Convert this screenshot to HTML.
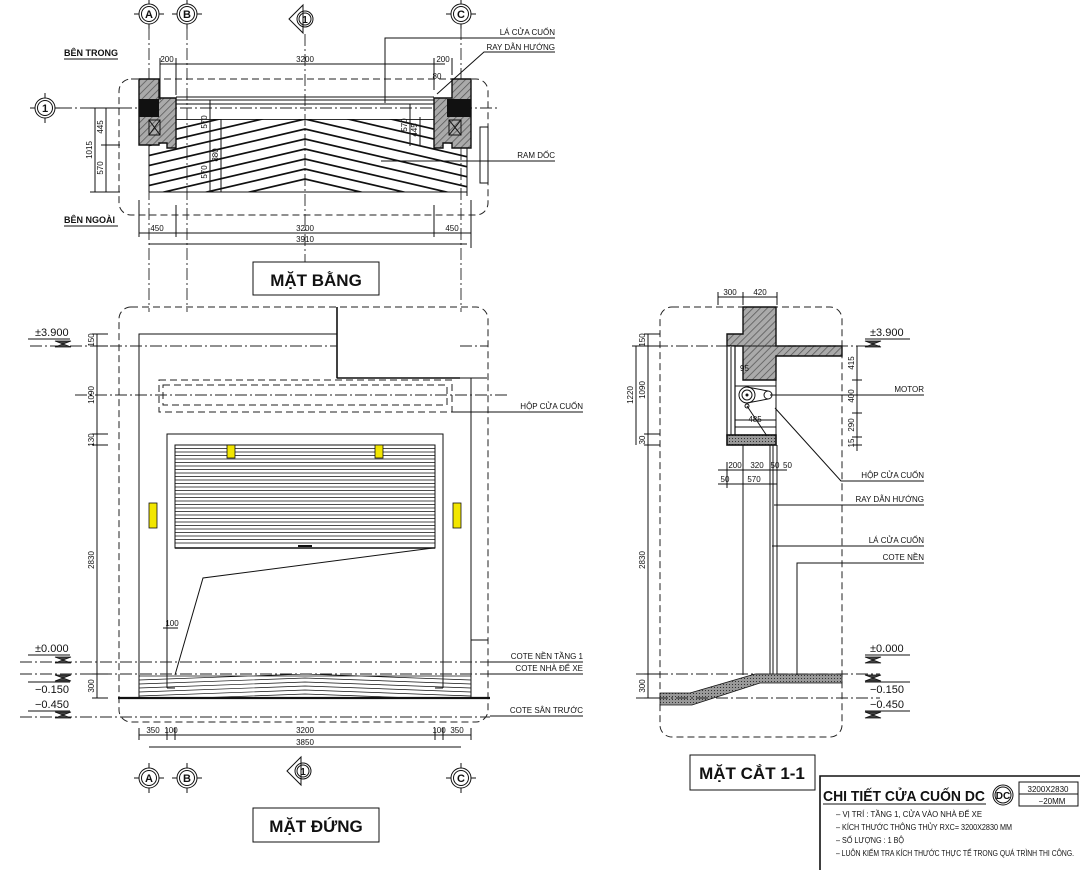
<!DOCTYPE html>
<html><head><meta charset="utf-8"><style>
html,body{margin:0;padding:0;background:#fff}
svg{display:block}
text{font-family:"Liberation Sans Narrow","Liberation Sans","DejaVu Sans",sans-serif;fill:#111}
.l{stroke:#111;stroke-width:1;fill:none}
.t{stroke:#111;stroke-width:1.6;fill:none}
.d{stroke:#222;stroke-width:1;fill:none;stroke-dasharray:7 4}
.c{stroke:#222;stroke-width:0.9;fill:none;stroke-dasharray:12 3 2 3}
.s{font-size:8px}
.m{font-size:9px}
.lv{font-size:11px}
</style></head><body>
<svg width="1080" height="870" viewBox="0 0 1080 870" xmlns="http://www.w3.org/2000/svg">
<defs>
<pattern id="h" width="5" height="5" patternUnits="userSpaceOnUse" patternTransform="rotate(45)"><rect width="5" height="5" fill="#aaa"/><line x1="0" y1="0" x2="0" y2="5" stroke="#555" stroke-width="1.5"/></pattern>
<pattern id="g" width="3" height="3" patternUnits="userSpaceOnUse"><rect width="3" height="3" fill="#999"/><rect width="1" height="1" fill="#333"/></pattern>
<clipPath id="rp"><rect x="149" y="119" width="318" height="73"/></clipPath>
<clipPath id="re"><rect x="139" y="674" width="332" height="24"/></clipPath>
<g id="bub"><circle r="10" class="l" stroke-width="1.3"/><circle r="7.5" class="l"/><line x1="-15" y1="0" x2="-10" y2="0" class="l"/><line x1="10" y1="0" x2="15" y2="0" class="l"/><line x1="0" y1="-15" x2="0" y2="-10" class="l"/><line x1="0" y1="10" x2="0" y2="15" class="l"/></g>
<g id="sec"><path d="M-14,0 L0,-14 L0,14 Z" class="l"/><circle cx="2" cy="0" r="8" fill="#fff" class="l" stroke-width="1.3"/><circle cx="2" cy="0" r="6" class="l"/></g>
<g id="lvd"><path d="M-8,0 L8,0 L-8,6 L8,6 Z" fill="#444" stroke="#111" stroke-width="0.8"/></g>
<g id="lvu"><path d="M-8,6 L8,6 L-8,0 L8,0 Z" fill="#444" stroke="#111" stroke-width="0.8"/></g>
</defs>

<!-- ================= PLAN ================= -->
<use href="#bub" x="149" y="14"/><text x="149" y="18" text-anchor="middle" font-size="11" font-weight="bold">A</text>
<use href="#bub" x="187" y="14"/><text x="187" y="18" text-anchor="middle" font-size="11" font-weight="bold">B</text>
<use href="#bub" x="461" y="14"/><text x="461" y="18" text-anchor="middle" font-size="11" font-weight="bold">C</text>
<use href="#sec" x="303" y="19"/><text x="305" y="23" text-anchor="middle" font-size="10" font-weight="bold">1</text>
<line x1="149" y1="28" x2="149" y2="312" class="c"/>
<line x1="187" y1="28" x2="187" y2="312" class="c"/>
<line x1="461" y1="28" x2="461" y2="312" class="c"/>
<line x1="305" y1="34" x2="305" y2="262" class="c"/>
<use href="#bub" x="45" y="108"/><text x="45" y="112" text-anchor="middle" font-size="11" font-weight="bold">1</text>
<line x1="60" y1="108" x2="500" y2="108" class="c"/>
<text x="64" y="56" class="m" font-weight="bold">BÊN TRONG</text><line x1="64" y1="59" x2="118" y2="59" class="l"/>
<text x="64" y="223" class="m" font-weight="bold">BÊN NGOÀI</text><line x1="64" y1="226" x2="118" y2="226" class="l"/>
<rect x="119" y="79" width="369" height="136" rx="12" class="d"/>
<!-- ramp -->
<g clip-path="url(#rp)" stroke="#111" stroke-width="1.7" fill="none">
<line x1="149" y1="119" x2="467" y2="119"/>
<path d="M130,160 L305,119 L485,161 M130,170 L305,129 L485,171 M130,180 L305,139 L485,181 M130,190 L305,149 L485,191 M130,200 L305,159 L485,201 M130,210 L305,169 L485,211 M130,220 L305,179 L485,221 M130,150 L305,109 L485,151 M130,140 L305,99 L485,141"/>
</g>
<line x1="149" y1="192" x2="467" y2="192" class="l"/>
<line x1="149" y1="145" x2="149" y2="192" class="l"/><line x1="467" y1="145" x2="467" y2="196" class="l"/>
<!-- rail -->
<rect x="168" y="100" width="275" height="4" class="l" fill="#ddd"/>
<line x1="176" y1="97" x2="434" y2="97" class="l"/>
<!-- left pillar -->
<path d="M139,79 L159,79 L159,98 L176,98 L176,148 L167,148 L167,143 L159,143 L159,145 L139,145 Z" fill="url(#h)" stroke="#111" stroke-width="1.4"/>
<rect x="139" y="99" width="20" height="18" fill="#111"/>
<rect x="149" y="120" width="11" height="15" fill="#fff" class="l"/><path d="M149,120 L160,135 M160,120 L149,135" class="l"/>
<!-- right pillar -->
<path d="M471,79 L452,79 L452,98 L434,98 L434,148 L443,148 L443,143 L452,143 L452,148 L471,148 Z" fill="url(#h)" stroke="#111" stroke-width="1.4"/>
<rect x="447" y="99" width="24" height="18" fill="#111"/>
<rect x="449" y="120" width="12" height="15" fill="#fff" class="l"/><path d="M449,120 L461,135 M461,120 L449,135" class="l"/>
<rect x="480" y="127" width="8" height="56" class="l"/>
<!-- plan dims -->
<line x1="160" y1="64" x2="445" y2="64" class="l"/>
<line x1="160" y1="58" x2="160" y2="100" class="l"/><line x1="176" y1="58" x2="176" y2="95" class="l"/><line x1="434" y1="58" x2="434" y2="90" class="l"/><line x1="452" y1="58" x2="452" y2="75" class="l"/>
<text x="167" y="62" class="s" text-anchor="middle">200</text><text x="305" y="62" class="s" text-anchor="middle">3200</text><text x="443" y="62" class="s" text-anchor="middle">200</text>
<text x="437" y="79" class="s" text-anchor="middle">80</text>
<line x1="139" y1="233" x2="471" y2="233" class="l"/><line x1="149" y1="244" x2="467" y2="244" class="l"/>
<line x1="139" y1="200" x2="139" y2="237" class="l"/><line x1="176" y1="205" x2="176" y2="237" class="l"/><line x1="434" y1="205" x2="434" y2="237" class="l"/><line x1="471" y1="200" x2="471" y2="248" class="l"/>
<text x="157" y="231" class="s" text-anchor="middle">450</text><text x="305" y="231" class="s" text-anchor="middle">3200</text><text x="452" y="231" class="s" text-anchor="middle">450</text><text x="305" y="242" class="s" text-anchor="middle">3910</text>
<line x1="95" y1="108" x2="95" y2="192" class="l"/><line x1="106" y1="108" x2="106" y2="192" class="l"/>
<line x1="90" y1="108" x2="120" y2="108" class="l"/><line x1="101" y1="145" x2="120" y2="145" class="l"/><line x1="90" y1="192" x2="120" y2="192" class="l"/>
<text transform="translate(92,150) rotate(-90)" class="s" text-anchor="middle">1015</text>
<text transform="translate(103,127) rotate(-90)" class="s" text-anchor="middle">445</text>
<text transform="translate(103,168) rotate(-90)" class="s" text-anchor="middle">570</text>
<line x1="210" y1="100" x2="210" y2="192" class="l"/><line x1="221" y1="119" x2="221" y2="192" class="l"/>
<text transform="translate(207,122) rotate(-90)" class="s" text-anchor="middle">570</text>
<text transform="translate(207,172) rotate(-90)" class="s" text-anchor="middle">570</text>
<text transform="translate(218,155) rotate(-90)" class="s" text-anchor="middle">880</text>
<line x1="410" y1="104" x2="410" y2="146" class="l"/><line x1="420" y1="117" x2="420" y2="146" class="l"/>
<text transform="translate(407,125) rotate(-90)" class="s" text-anchor="middle">570</text>
<text transform="translate(417,130) rotate(-90)" class="s" text-anchor="middle">445</text>
<!-- plan leaders -->
<path d="M385,103 L385,38 L555,38" class="l"/><text x="555" y="35" class="s" text-anchor="end">LÁ CỬA CUỐN</text>
<path d="M437,94 L484,52 L555,52" class="l"/><text x="555" y="50" class="s" text-anchor="end">RAY DẪN HƯỚNG</text>
<path d="M381,161 L555,161" class="l"/><text x="555" y="158" class="s" text-anchor="end">RAM DỐC</text>
<rect x="253" y="262" width="126" height="33" class="l"/>
<text x="316" y="286" text-anchor="middle" font-size="17" font-weight="bold">MẶT BẰNG</text>

<!-- ================= ELEVATION ================= -->
<rect x="119" y="307" width="369" height="415" rx="12" class="d"/>
<path d="M139,698 L139,334 L337,334 M337,307 L337,378 L487,378 M471,378 L471,698" class="l"/>
<line x1="337" y1="307" x2="337" y2="378" class="t"/><line x1="337" y1="378" x2="460" y2="378" class="t"/>
<line x1="30" y1="346" x2="337" y2="346" class="c"/><line x1="460" y1="346" x2="488" y2="346" class="c"/>
<rect x="159" y="380" width="293" height="32" class="d"/>
<rect x="163" y="385" width="284" height="20" class="d"/>
<line x1="75" y1="395" x2="508" y2="395" class="c"/>
<path d="M452,412 L583,412" class="l"/><text x="583" y="409" class="s" text-anchor="end">HỘP CỬA CUỐN</text>
<path d="M167,688 L167,434 L443,434 L443,688" class="l"/>
<rect x="175" y="445" width="260" height="103" class="l"/>
<g stroke="#111" stroke-width="0.8">
<path d="M175,448.5H435M175,452H435M175,455.5H435M175,459H435M175,462.5H435M175,466H435M175,469.5H435M175,473H435M175,476.5H435M175,480H435M175,483.5H435M175,487H435M175,490.5H435M175,494H435M175,497.5H435M175,501H435M175,504.5H435M175,508H435M175,511.5H435M175,515H435M175,518.5H435M175,522H435M175,525.5H435M175,529H435M175,532.5H435M175,536H435M175,539.5H435M175,543H435"/>
</g>
<line x1="175" y1="548" x2="435" y2="548" class="t"/>
<rect x="298" y="545" width="14" height="2" fill="#111"/>
<rect x="227" y="445" width="8" height="13" fill="#f2e600" stroke="#111" stroke-width="0.8"/>
<rect x="375" y="445" width="8" height="13" fill="#f2e600" stroke="#111" stroke-width="0.8"/>
<rect x="149" y="503" width="8" height="25" fill="#f2e600" stroke="#111" stroke-width="0.8"/>
<rect x="453" y="503" width="8" height="25" fill="#f2e600" stroke="#111" stroke-width="0.8"/>
<path d="M175,675 L203,578 L433,548" class="l"/>
<line x1="163" y1="628" x2="178" y2="628" class="l"/><text x="172" y="626" class="s" text-anchor="middle">100</text>
<line x1="471" y1="640" x2="488" y2="640" class="l"/>
<line x1="20" y1="662" x2="490" y2="662" class="c"/>
<line x1="20" y1="674" x2="490" y2="674" class="c"/>
<g clip-path="url(#re)" stroke="#111" stroke-width="0.7" fill="none">
<path d="M139,676H471M139,680L305,674L471,680M139,684L305,678L471,684M139,688L305,682L471,688M139,692L305,686L471,692M139,696L305,690L471,696M139,700L305,694L471,700"/>
</g>
<line x1="167" y1="688" x2="175" y2="688" class="l"/><line x1="435" y1="688" x2="443" y2="688" class="l"/>
<line x1="118" y1="698" x2="490" y2="698" stroke="#111" stroke-width="2.2"/>
<line x1="20" y1="717" x2="490" y2="717" class="c"/>
<!-- levels left -->
<text x="35" y="336" class="lv">±3.900</text><line x1="28" y1="339" x2="70" y2="339" class="l"/><use href="#lvd" x="63" y="341"/>
<text x="35" y="652" class="lv">±0.000</text><line x1="28" y1="655" x2="70" y2="655" class="l"/><use href="#lvd" x="63" y="657"/>
<use href="#lvu" x="63" y="675"/><line x1="28" y1="682" x2="70" y2="682" class="l"/><text x="35" y="693" class="lv">−0.150</text>
<text x="35" y="708" class="lv">−0.450</text><line x1="28" y1="711" x2="70" y2="711" class="l"/><use href="#lvd" x="63" y="712"/>
<!-- left dims -->
<line x1="97" y1="334" x2="97" y2="698" class="l"/>
<path d="M92,334H108M92,346H108M92,434H108M92,445H108M92,674H108M92,698H108" class="l"/>
<text transform="translate(94,340) rotate(-90)" class="s" text-anchor="middle">150</text>
<text transform="translate(94,395) rotate(-90)" class="s" text-anchor="middle">1090</text>
<text transform="translate(94,440) rotate(-90)" class="s" text-anchor="middle">130</text>
<text transform="translate(94,560) rotate(-90)" class="s" text-anchor="middle">2830</text>
<text transform="translate(94,686) rotate(-90)" class="s" text-anchor="middle">300</text>
<!-- right labels -->
<path d="M490,662 L583,662 M490,674 L583,674 M490,716 L583,716" class="l"/>
<text x="583" y="659" class="s" text-anchor="end">COTE NỀN TẦNG 1</text>
<text x="583" y="671" class="s" text-anchor="end">COTE NHÀ ĐỂ XE</text>
<text x="583" y="713" class="s" text-anchor="end">COTE SÂN TRƯỚC</text>
<!-- bottom dims -->
<line x1="139" y1="735" x2="471" y2="735" class="l"/><line x1="149" y1="747" x2="461" y2="747" class="l"/>
<path d="M139,728V740M167,728V740M175,728V740M435,728V740M443,728V740M471,728V740" class="l"/>
<text x="153" y="733" class="s" text-anchor="middle">350</text><text x="171" y="733" class="s" text-anchor="middle">100</text><text x="305" y="733" class="s" text-anchor="middle">3200</text><text x="439" y="733" class="s" text-anchor="middle">100</text><text x="457" y="733" class="s" text-anchor="middle">350</text>
<text x="305" y="745" class="s" text-anchor="middle">3850</text>
<use href="#bub" x="149" y="778"/><text x="149" y="782" text-anchor="middle" font-size="11" font-weight="bold">A</text>
<use href="#bub" x="187" y="778"/><text x="187" y="782" text-anchor="middle" font-size="11" font-weight="bold">B</text>
<use href="#bub" x="461" y="778"/><text x="461" y="782" text-anchor="middle" font-size="11" font-weight="bold">C</text>
<use href="#sec" x="301" y="771"/><text x="303" y="775" text-anchor="middle" font-size="10" font-weight="bold">1</text>
<rect x="253" y="808" width="126" height="34" class="l"/>
<text x="316" y="832" text-anchor="middle" font-size="17" font-weight="bold">MẶT ĐỨNG</text>

<!-- ================= SECTION ================= -->
<rect x="660" y="307" width="182" height="430" rx="12" class="d"/>
<path d="M743,307 L776,307 L776,346 L842,346 L842,356 L776,356 L776,380 L743,380 L743,346 L727,346 L727,334 L743,334 Z" fill="url(#h)" stroke="#111" stroke-width="1.4"/>
<line x1="743" y1="346" x2="776" y2="346" class="l"/>
<rect x="727" y="346" width="8" height="90" fill="#fff" stroke="#111" stroke-width="1.2"/>
<rect x="730" y="346" width="2" height="90" fill="#888"/>
<rect x="727" y="435" width="49" height="10" fill="url(#g)" stroke="#111" stroke-width="1.6"/>
<line x1="776" y1="380" x2="776" y2="445" class="l"/>
<path d="M735,386H776M735,420H776M735,427H776" class="l" stroke-width="0.6"/>
<circle cx="747" cy="395" r="8" class="l"/><circle cx="747" cy="395" r="5" class="l"/><circle cx="747" cy="395" r="1.5" fill="#111"/>
<circle cx="768" cy="395" r="4" class="l"/>
<path d="M747,387 L768,391 M747,403 L768,399" class="l"/>
<circle cx="747" cy="406" r="2" class="l"/>
<path d="M747,406 L767,436" class="l" stroke-width="0.7"/>
<line x1="743" y1="445" x2="743" y2="675" class="l"/>
<line x1="770" y1="445" x2="770" y2="675" class="l"/><line x1="773" y1="445" x2="773" y2="675" class="l"/><line x1="777" y1="445" x2="777" y2="675" class="l"/>
<path d="M660,693 L690,693 L755,674 L842,674 L842,683 L760,683 L692,705 L660,705 Z" fill="url(#g)" stroke="#111" stroke-width="0.8"/>
<line x1="636" y1="346" x2="880" y2="346" class="c"/>
<line x1="636" y1="674" x2="880" y2="674" class="c"/>
<line x1="636" y1="698" x2="880" y2="698" class="c"/>
<!-- section dims -->
<line x1="636" y1="346" x2="636" y2="445" class="l"/><line x1="648" y1="334" x2="648" y2="698" class="l"/>
<path d="M632,346H660M644,334H660M644,445H660M644,434H660M644,674H660M644,698H660" class="l"/>
<text transform="translate(633,395) rotate(-90)" class="s" text-anchor="middle">1220</text>
<text transform="translate(645,340) rotate(-90)" class="s" text-anchor="middle">150</text>
<text transform="translate(645,390) rotate(-90)" class="s" text-anchor="middle">1090</text>
<text transform="translate(645,440) rotate(-90)" class="s" text-anchor="middle">30</text>
<text transform="translate(645,560) rotate(-90)" class="s" text-anchor="middle">2830</text>
<text transform="translate(645,686) rotate(-90)" class="s" text-anchor="middle">300</text>
<line x1="857" y1="346" x2="857" y2="451" class="l"/>
<path d="M852,380H862M852,413H862M852,437H862M852,445H862" class="l"/>
<text transform="translate(854,363) rotate(-90)" class="s" text-anchor="middle">415</text>
<text transform="translate(854,396) rotate(-90)" class="s" text-anchor="middle">400</text>
<text transform="translate(854,425) rotate(-90)" class="s" text-anchor="middle">290</text>
<text transform="translate(854,443) rotate(-90)" class="s" text-anchor="middle">15</text>
<line x1="718" y1="297" x2="777" y2="297" class="l"/>
<path d="M718,292V305M743,292V305M777,292V305" class="l"/>
<text x="730" y="295" class="s" text-anchor="middle">300</text><text x="760" y="295" class="s" text-anchor="middle">420</text>
<text x="740" y="371" class="s">95</text><text x="755" y="422" class="s" text-anchor="middle">485</text>
<line x1="718" y1="470" x2="787" y2="470" class="l"/><line x1="718" y1="484" x2="777" y2="484" class="l"/>
<path d="M727,462V488M743,462V488M770,462V488M777,462V488" class="l"/>
<text x="735" y="468" class="s" text-anchor="middle">200</text><text x="757" y="468" class="s" text-anchor="middle">320</text><text x="775" y="468" class="s" text-anchor="middle">50</text><text x="783" y="468" class="s">50</text>
<text x="725" y="482" class="s" text-anchor="middle">50</text><text x="754" y="482" class="s" text-anchor="middle">570</text>
<!-- section levels -->
<text x="870" y="336" class="lv">±3.900</text><line x1="865" y1="339" x2="910" y2="339" class="l"/><use href="#lvd" x="873" y="341"/>
<text x="870" y="652" class="lv">±0.000</text><line x1="865" y1="655" x2="910" y2="655" class="l"/><use href="#lvd" x="873" y="657"/>
<use href="#lvu" x="873" y="675"/><line x1="865" y1="682" x2="910" y2="682" class="l"/><text x="870" y="693" class="lv">−0.150</text>
<text x="870" y="708" class="lv">−0.450</text><line x1="865" y1="711" x2="910" y2="711" class="l"/><use href="#lvd" x="873" y="712"/>
<!-- section leaders -->
<path d="M770,395 L924,395" class="l"/><text x="924" y="392" class="s" text-anchor="end">MOTOR</text>
<path d="M775,408 L841,481 L924,481" class="l"/><text x="924" y="478" class="s" text-anchor="end">HỘP CỬA CUỐN</text>
<path d="M774,505 L924,505" class="l"/><text x="924" y="502" class="s" text-anchor="end">RAY DẪN HƯỚNG</text>
<path d="M772,546 L924,546" class="l"/><text x="924" y="543" class="s" text-anchor="end">LÁ CỬA CUỐN</text>
<path d="M797,675 L797,563 L924,563" class="l"/><text x="924" y="560" class="s" text-anchor="end">COTE NỀN</text>
<rect x="690" y="755" width="125" height="35" class="l"/>
<text x="752" y="779" text-anchor="middle" font-size="17" font-weight="bold">MẶT CẮT 1-1</text>

<!-- ================= TITLE BLOCK ================= -->
<path d="M820,870 L820,776 L1080,776" stroke="#111" stroke-width="1.6" fill="none"/>
<text x="823" y="801" font-size="15" font-weight="bold" textLength="162" lengthAdjust="spacingAndGlyphs">CHI TIẾT CỬA CUỐN DC</text>
<line x1="823" y1="804" x2="986" y2="804" class="l"/>
<circle cx="1003" cy="795" r="10" class="l" stroke-width="1.3"/><circle cx="1003" cy="795" r="8" class="l"/>
<text x="1003" y="799" text-anchor="middle" font-size="10" font-weight="bold">DC</text>
<rect x="1019" y="782" width="59" height="24" class="l"/><line x1="1019" y1="794" x2="1078" y2="794" class="l"/>
<text x="1048" y="792" text-anchor="middle" class="s">3200X2830</text>
<text x="1052" y="804" text-anchor="middle" class="s">−20MM</text>
<text x="836" y="817" class="s" textLength="146" lengthAdjust="spacingAndGlyphs">– VỊ TRÍ :  TẦNG 1, CỬA VÀO NHÀ ĐỂ XE</text>
<text x="836" y="830" class="s" textLength="176" lengthAdjust="spacingAndGlyphs">– KÍCH THƯỚC THÔNG THỦY RXC= 3200X2830 MM</text>
<text x="836" y="843" class="s" textLength="68" lengthAdjust="spacingAndGlyphs">– SỐ LƯỢNG :  1 BỘ</text>
<text x="836" y="856" class="s" textLength="238" lengthAdjust="spacingAndGlyphs">– LUÔN KIỂM TRA KÍCH THƯỚC THỰC TẾ TRONG QUÁ TRÌNH THI CÔNG.</text>
</svg>
</body></html>
